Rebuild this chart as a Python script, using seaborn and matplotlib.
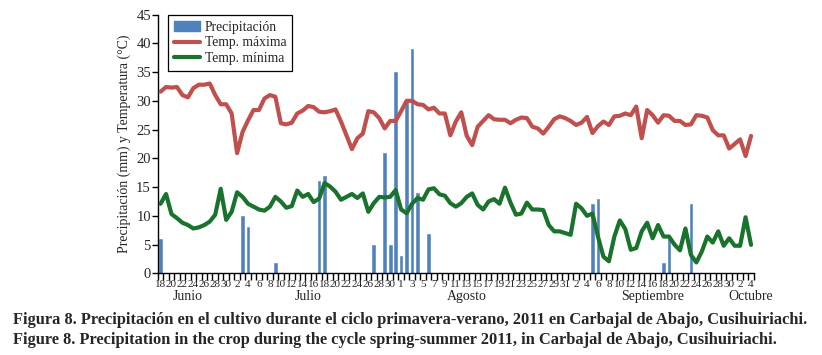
import numpy as np
import pandas as pd
import matplotlib
matplotlib.use("Agg")
import matplotlib.pyplot as plt
import seaborn as sns
from matplotlib.patches import Patch
from matplotlib.lines import Line2D
from matplotlib.ticker import FixedLocator, FixedFormatter

sns.set_theme(style="white")
plt.rcParams['font.family'] = ['Liberation Serif', 'DejaVu Serif']

# ---------------- data ----------------
start_date = "2011-06-18"
end_date = "2011-10-04"

temp_max = [31.6, 32.4, 32.3, 32.4, 31.0, 30.6, 32.2, 32.8, 32.8, 33.0,
            31.0, 29.4, 29.4, 27.8, 20.9, 24.6, 26.6, 28.4, 28.4, 30.4,
            31.0, 30.7, 26.1, 25.9, 26.2, 27.8, 28.3, 29.1, 28.9, 28.1,
            28.0, 28.2, 28.5, 26.4, 24.0, 21.6, 23.5, 24.3, 28.2, 28.0,
            27.0, 25.2, 26.5, 26.5, 28.2, 30.0, 30.0, 29.4, 29.3, 28.5,
            28.8, 27.8, 27.8, 24.0, 26.4, 28.0, 23.9, 22.3, 25.5, 26.5,
            27.5, 26.8, 26.7, 26.7, 26.1, 26.7, 27.1, 27.0, 25.5, 25.2,
            24.3, 25.5, 26.8, 27.3, 27.0, 26.5, 25.8, 26.2, 27.2, 24.4,
            25.6, 26.4, 25.8, 27.3, 27.4, 27.8, 27.5, 29.0, 23.5, 28.4,
            27.5, 26.2, 27.5, 27.4, 26.5, 26.5, 25.8, 25.9, 27.5, 27.4,
            27.1, 24.9, 24.0, 24.0, 21.7, 22.5, 23.3, 20.4, 23.9]

temp_min = [12.1, 13.8, 10.3, 9.6, 8.8, 8.4, 7.8, 8.0, 8.4, 9.0,
            10.2, 14.7, 9.3, 10.7, 14.1, 13.3, 12.1, 11.6, 11.1, 10.9,
            11.6, 13.3, 12.5, 11.4, 11.7, 14.4, 13.3, 13.8, 12.4, 13.0,
            15.7, 15.1, 14.2, 12.8, 13.3, 13.8, 13.1, 13.9, 10.7, 12.2,
            13.3, 13.2, 13.3, 14.5, 11.1, 10.45, 12.1, 13.1, 12.8, 14.6,
            14.8, 13.75, 13.5, 12.2, 11.6, 12.2, 13.3, 13.9, 11.9, 11.1,
            12.5, 12.9, 12.1, 14.9, 12.3, 10.2, 10.4, 12.3, 11.1, 11.1,
            11.0, 8.4, 7.3, 7.3, 7.0, 6.7, 12.1, 11.3, 10.0, 10.4,
            6.4, 2.9, 2.1, 6.4, 9.2, 7.7, 4.1, 4.4, 7.3, 8.8,
            6.1, 8.4, 6.4, 6.4, 5.0, 4.0, 7.8, 3.2, 1.9, 3.8,
            6.4, 5.35, 7.3, 4.8, 6.1, 4.8, 4.8, 9.75, 4.95]

precip_dates = ["2011-06-18", "2011-07-03", "2011-07-04", "2011-07-09",
                "2011-07-17", "2011-07-18", "2011-07-27", "2011-07-29",
                "2011-07-30", "2011-07-31", "2011-08-01", "2011-08-02",
                "2011-08-03", "2011-08-04", "2011-08-06", "2011-09-05",
                "2011-09-06", "2011-09-18", "2011-09-19", "2011-09-23"]
precip_mm = [6, 10, 8, 1.8, 16, 17, 5, 21, 5, 35, 3, 30, 39, 14, 6.8,
             12, 13, 1.8, 6, 12]

month_names = ["Junio", "Julio", "Agosto", "Septiembre", "Octubre"]
month_label_dates = ["2011-06-23", "2011-07-15", "2011-08-13",
                     "2011-09-16", "2011-10-04"]

legend_labels = ["Precipitación", "Temp. máxima", "Temp. mínima"]
y_label = "Precipitación (mm) y Temperatura (°C)"
caption_es = ("Figura 8. Precipitación en el cultivo durante el ciclo "
              "primavera-verano, 2011 en Carbajal de Abajo, Cusihuiriachi.")
caption_en = ("Figure 8. Precipitation in the crop during the cycle "
              "spring-summer 2011, in Carbajal de Abajo, Cusihuiriachi.")

# ---------------- build table ----------------
dates = pd.date_range(start_date, end_date, freq="D")
n = len(dates)
pos = np.arange(n)
rain = pd.Series(0.0, index=dates)
rain.loc[pd.to_datetime(precip_dates)] = precip_mm
df = pd.DataFrame({"pos": pos, "rain": rain.values,
                   "tmax": temp_max, "tmin": temp_min})

blue = "#4F81BD"
red = "#C0504D"
green = "#1A732D"

fig = plt.figure(figsize=(8.22, 3.55), dpi=100)
ax = fig.add_axes([0.192, 0.23, 0.725, 0.729])

sns.barplot(data=df, x="pos", y="rain", color=blue, width=0.5,
            saturation=1, ax=ax, zorder=2, edgecolor=blue, linewidth=0.4)
sns.lineplot(data=df, x="pos", y="tmax", color=red, linewidth=3.0,
             ax=ax, zorder=3, solid_joinstyle="round")
sns.lineplot(data=df, x="pos", y="tmin", color=green, linewidth=3.0,
             ax=ax, zorder=3, solid_joinstyle="round")

ax.set_xlim(-0.5, n - 0.5)
ax.set_ylim(0, 45)
ax.set_yticks(np.arange(0, 46, 5))
ax.set_xlabel("")
ax.set_ylabel(y_label, fontsize=10, labelpad=4)

# x ticks: labels on even days, tick marks between categories
lab_pos = pos[::2]
lab_txt = [str(d.day) for d in dates[::2]]
ax.xaxis.set_major_locator(FixedLocator(lab_pos))
ax.xaxis.set_major_formatter(FixedFormatter(lab_txt))
ax.xaxis.set_minor_locator(FixedLocator(np.arange(n + 1) - 0.5))
ax.tick_params(axis="x", which="major", length=0, labelsize=8, pad=5)
ax.tick_params(axis="x", which="minor", length=5, width=1, color="black",
               direction="out", bottom=True)
ax.tick_params(axis="y", which="major", length=4, width=1, color="black",
               direction="out", left=True, labelsize=10.5, pad=1)

for s in ["top", "right"]:
    ax.spines[s].set_visible(False)
for s in ["left", "bottom"]:
    ax.spines[s].set_color("black")
    ax.spines[s].set_linewidth(1.0)
ax.grid(False)

# month labels
trans = ax.get_xaxis_transform()
for name, d in zip(month_names, month_label_dates):
    xi = (pd.Timestamp(d) - dates[0]).days
    ax.text(xi, -0.09, name, transform=trans, ha="center", va="center",
            fontsize=10)

# legend
handles = [Patch(facecolor=blue, edgecolor=blue),
           Line2D([0], [0], color=red, linewidth=3.0),
           Line2D([0], [0], color=green, linewidth=3.0)]
leg = ax.legend(handles, legend_labels, loc="upper left",
                bbox_to_anchor=(0.017, 1.0), fontsize=9.8, frameon=True,
                fancybox=False, edgecolor="black", framealpha=1,
                handlelength=1.9, handleheight=0.7, labelspacing=0.2,
                borderpad=0.45, handletextpad=0.35, borderaxespad=0)
leg.get_frame().set_linewidth(0.9)

# caption
fig.text(0.016, 1 - 320 / 355, caption_es, ha="left", va="center",
         fontsize=11.8, fontweight="bold")
fig.text(0.016, 1 - 340 / 355, caption_en, ha="left", va="center",
         fontsize=11.8, fontweight="bold")

fig.savefig("out.png", dpi=100)
